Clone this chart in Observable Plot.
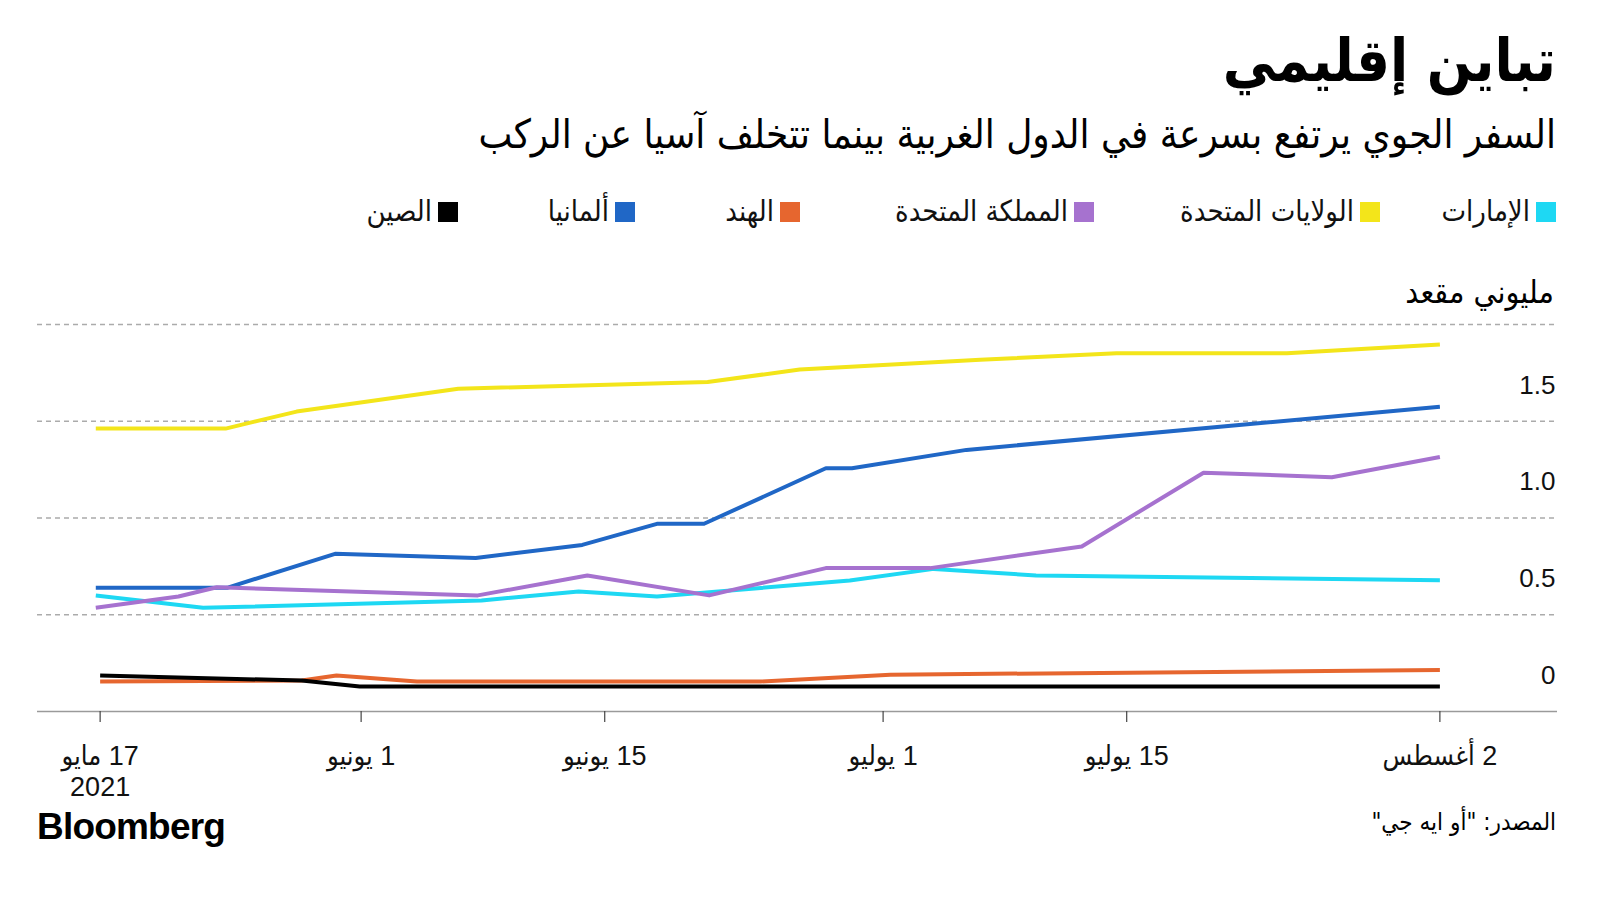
<!DOCTYPE html>
<html>
<head>
<meta charset="utf-8">
<script src="https://cdn.jsdelivr.net/npm/d3@7"></script>
<script src="https://cdn.jsdelivr.net/npm/@observablehq/plot@0.6"></script>
<style>
  html, body { margin: 0; padding: 0; background: #fff; }
  #root { position: relative; width: 1600px; height: 900px; background: #fff; overflow: hidden; }
  .ar { font-family: "DejaVu Sans Condensed", "DejaVu Sans", sans-serif; color: #111; }
  .abs { position: absolute; white-space: nowrap; }
  .lg { position: absolute; display: flex; align-items: center; direction: rtl; gap: 6px; font-size: 29px; line-height: 1; }
  .sw { width: 20px; height: 20px; flex: none; }
</style>
</head>
<body>
<div id="root">
  <div class="abs ar" dir="rtl" style="right:44px; top:26px; font-size:59px; font-weight:700; color:#000;">تباين إقليمي</div>
  <div class="abs ar" dir="rtl" style="right:44px; top:111px; font-size:40px; color:#000;">السفر الجوي يرتفع بسرعة في الدول الغربية بينما تتخلف آسيا عن الركب</div>
  <div id="legend"></div>
  <div id="chart" class="abs" style="left:0; top:280px;"></div>
  <div class="abs ar" dir="rtl" style="right:46px; top:273px; font-size:32px; color:#000;">مليوني مقعد</div>
  <div class="abs" style="left:37px; top:806px; font-family:'Liberation Sans', Arial, sans-serif; font-weight:700; font-size:37px; letter-spacing:-0.8px; color:#000;">Bloomberg</div>
  <div class="abs ar" dir="rtl" style="right:44px; top:808px; font-size:24px; color:#000;">المصدر: "أو ايه جي"</div>
</div>
<script>
// ---------- data ----------
const seriesNames = ["الإمارات", "الولايات المتحدة", "المملكة المتحدة", "الهند", "ألمانيا", "الصين"];

const uaeDates = ["2021-05-16T18:00Z","2021-05-22T22:00Z","2021-06-07T22:00Z","2021-06-13T12:00Z","2021-06-18T00:00Z","2021-06-29T02:00Z","2021-07-03T22:00Z","2021-07-09T19:00Z","2021-08-02T00:00Z"];
const uaeValues = [0.60, 0.536, 0.574, 0.62, 0.594, 0.677, 0.737, 0.703, 0.678];

const usDates = ["2021-05-16T18:00Z","2021-05-24T05:00Z","2021-05-28T07:00Z","2021-06-06T14:00Z","2021-06-20T22:00Z","2021-06-26T05:00Z","2021-07-06T14:00Z","2021-07-14T10:00Z","2021-07-24T05:00Z","2021-08-02T00:00Z"];
const usValues = [1.462, 1.462, 1.55, 1.668, 1.703, 1.767, 1.818, 1.851, 1.851, 1.897];

const ukDates = ["2021-05-16T18:00Z","2021-05-21T12:00Z","2021-05-23T17:00Z","2021-06-07T17:00Z","2021-06-14T00:00Z","2021-06-21T00:00Z","2021-06-27T17:00Z","2021-07-03T17:00Z","2021-07-12T10:00Z","2021-07-19T10:00Z","2021-07-26T19:00Z","2021-08-02T00:00Z"];
const ukValues = [0.536, 0.594, 0.642, 0.60, 0.703, 0.60, 0.741, 0.741, 0.853, 1.234, 1.211, 1.315];

const indiaDates = ["2021-05-17T00:00Z","2021-05-28T14:00Z","2021-05-30T14:00Z","2021-06-04T05:00Z","2021-06-23T22:00Z","2021-07-01T10:00Z","2021-08-02T00:00Z"];
const indiaValues = [0.155, 0.16, 0.186, 0.155, 0.155, 0.19, 0.215];

const germanyDates = ["2021-05-16T18:00Z","2021-05-24T07:00Z","2021-05-30T12:00Z","2021-06-07T14:00Z","2021-06-13T17:00Z","2021-06-18T00:00Z","2021-06-20T17:00Z","2021-06-27T17:00Z","2021-06-29T05:00Z","2021-07-05T19:00Z","2021-08-02T00:00Z"];
const germanyValues = [0.639, 0.639, 0.815, 0.793, 0.861, 0.970, 0.970, 1.257, 1.257, 1.352, 1.575];

const chinaDates = ["2021-05-17T00:00Z","2021-05-28T14:00Z","2021-05-31T22:00Z","2021-08-02T00:00Z"];
const chinaValues = [0.186, 0.16, 0.129, 0.129];

const xTickDates = ["2021-05-17T00:00Z","2021-06-01T00:00Z","2021-06-15T00:00Z","2021-07-01T00:00Z","2021-07-15T00:00Z","2021-08-02T00:00Z"];
const xTickLabels = ["17 مايو\n2021", "1 يونيو", "15 يونيو", "1 يوليو", "15 يوليو", "2 أغسطس"];
const yTickValues = [0, 0.5, 1, 1.5];
const yTickLabels = ["0", "0.5", "1.0", "1.5"];
const yGridValues = [0.5, 1, 1.5, 2];

// ---------- styles ----------
const seriesColors = ["#1ed8f3", "#f3e51a", "#a672cf", "#e6662f", "#2067c6", "#000000"];
const drawOrder = [1, 0, 4, 2, 3, 5];
const legendRight = [44, 220, 506, 800, 965, 1142];
const numFont = `"Liberation Sans Narrow", "Liberation Sans", "DejaVu Sans Condensed", sans-serif`;

// ---------- build ----------
const allDates = [uaeDates, usDates, ukDates, indiaDates, germanyDates, chinaDates];
const allValues = [uaeValues, usValues, ukValues, indiaValues, germanyValues, chinaValues];
const rows = [];
seriesNames.forEach((name, i) => {
  allDates[i].forEach((d, j) => rows.push({series: name, date: new Date(d), value: allValues[i][j]}));
});
const ticks = xTickDates.map(d => new Date(d));
const RLM = "\u200F";

const marks = [
  Plot.ruleY(yGridValues, {stroke: "#ababab", strokeWidth: 1.3, strokeDasharray: "5,4"}),
  ...drawOrder.map(i => Plot.line(rows.filter(r => r.series === seriesNames[i]), {
    x: "date", y: "value", stroke: seriesColors[i], strokeWidth: 4, strokeLinejoin: "round", strokeLinecap: "butt"
  })),
  Plot.ruleY([0], {stroke: "#9a9a9a", strokeWidth: 1.6}),
  Plot.text(ticks, {x: d => d, text: (d, i) => xTickLabels[i].split("\n").map(s => RLM + s).join("\n"),
    frameAnchor: "bottom", lineAnchor: "top", dy: 32, fontSize: 27, lineHeight: 1.13, fill: "#111"}),
  Plot.text(yTickValues, {y: d => d, text: (d, i) => yTickLabels[i], frameAnchor: "right", textAnchor: "end",
    dx: -2, dy: -36, fontSize: 26, fill: "#111"})
];
if (Plot.axisX) {
  marks.push(Plot.axisX(ticks, {tickSize: 11, tickFormat: () => "", stroke: "#444", strokeWidth: 1.2}));
}

const chart = Plot.plot({
  width: 1600, height: 540,
  marginLeft: 37, marginRight: 43, marginTop: 44, marginBottom: 109,
  x: Plot.axisX ? {type: "utc", domain: [new Date("2021-05-13T09:36Z"), new Date("2021-08-08T18:14Z")], axis: null}
                : {type: "utc", domain: [new Date("2021-05-13T09:36Z"), new Date("2021-08-08T18:14Z")], ticks, tickSize: 11, tickFormat: () => "", label: null},
  y: {domain: [0, 2], axis: null},
  style: {background: "transparent", overflow: "visible", fontFamily: numFont, color: "#111"},
  marks
});
document.getElementById("chart").appendChild(chart);

// legend
const lg = document.getElementById("legend");
seriesNames.forEach((name, i) => {
  const item = document.createElement("div");
  item.className = "lg ar";
  item.style.right = legendRight[i] + "px";
  item.style.top = "197px";
  const sw = document.createElement("span");
  sw.className = "sw";
  sw.style.background = seriesColors[i];
  const tx = document.createElement("span");
  tx.textContent = name;
  item.appendChild(sw);
  item.appendChild(tx);
  lg.appendChild(item);
});
</script>
</body>
</html>
